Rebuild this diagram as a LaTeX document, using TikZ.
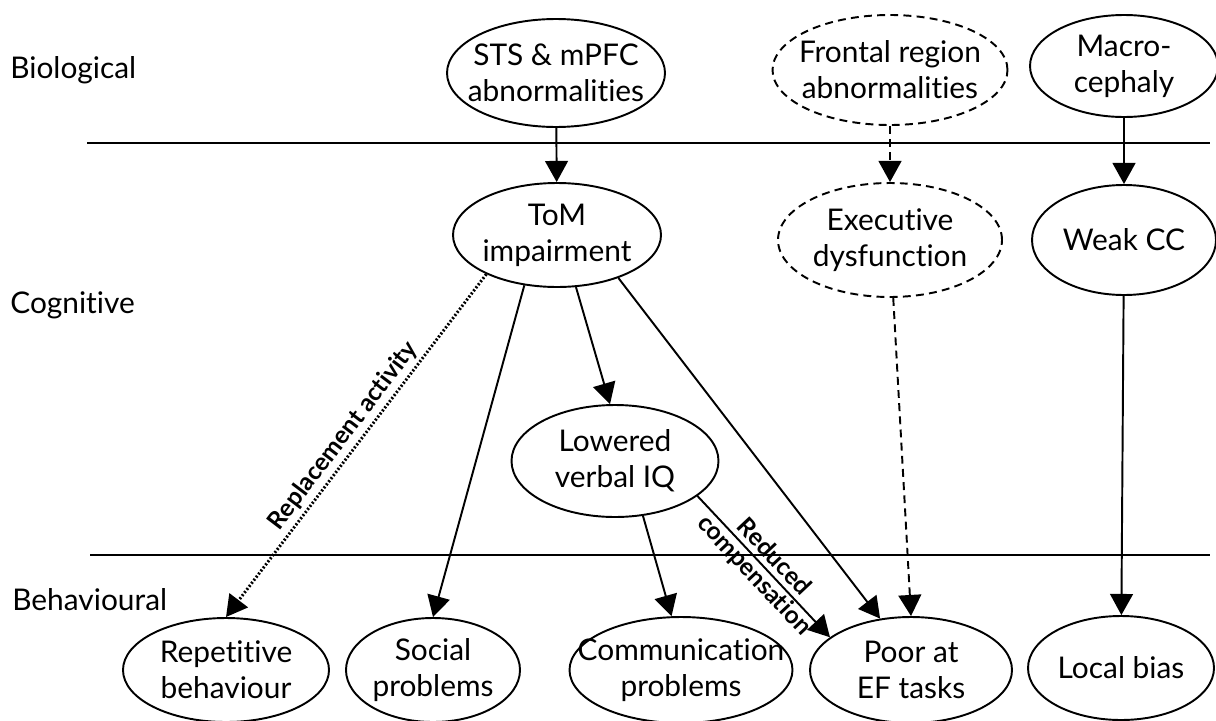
\documentclass[tikz,border=0pt]{standalone}
\usepackage{fontspec}
\setmainfont{Lato}[Ligatures={NoCommon,NoDiscretionary}]
\usetikzlibrary{arrows.meta,shapes.geometric}

\begin{document}
\begin{tikzpicture}[
  x=0.02cm, y=-0.02cm,
  font=\fontsize{17}{20.5}\selectfont,
  lvl/.style={anchor=west,inner sep=0pt},
  blob/.style={ellipse,draw,line width=1.1pt,align=center,inner xsep=-20pt,inner ysep=0pt},
  unsure/.style={blob,dashed,dash pattern=on 4.5pt off 3pt},
  ar/.style={-{Triangle[length=12pt,width=13pt]},line width=1.1pt},
  dotar/.style={ar,line width=1.7pt,dash pattern=on 1.1pt off 1.1pt},
  dashar/.style={ar,dash pattern=on 4.5pt off 3pt},
  lbl/.style={font=\fontsize{14}{15}\selectfont\bfseries,inner sep=2pt}
]
\useasboundingbox (0,0) rectangle (1216,720);

% levels and the two separators
\node[lvl] (bio) at (10,70)  {Biological};
\node[lvl] (cog) at (10,305) {Cognitive};
\node[lvl] (beh) at (12,600) {Behavioural};
\draw[line width=1.1pt] (87,143) -- (1210,143);
\draw[line width=1.1pt] (90,555) -- (1210,555);

% biological
\node[blob,minimum width=218*0.02cm,minimum height=108*0.02cm] (sts) at (556,73)
  {STS \& mPFC\\abnormalities};
\node[unsure,minimum width=235*0.02cm,minimum height=110*0.02cm] (front) at (890,70)
  {Frontal region\\abnormalities};
\node[blob,minimum width=188*0.02cm,minimum height=102*0.02cm] (macro) at (1124,66)
  {Macro-\\cephaly};

% cognitive
\node[blob,minimum width=208*0.02cm,minimum height=104*0.02cm] (tom) at (557,235)
  {ToM\\impairment};
\node[unsure,minimum width=224*0.02cm,minimum height=114*0.02cm] (exec) at (890,240)
  {Executive\\dysfunction};
\node[blob,minimum width=184*0.02cm,minimum height=110*0.02cm] (weak) at (1124,240)
  {Weak CC};
\node[blob,minimum width=207*0.02cm,minimum height=112*0.02cm] (lowiq) at (615,461)
  {Lowered\\verbal IQ};

% behavioural
\node[blob,minimum width=206*0.02cm,minimum height=104*0.02cm] (rep) at (226,670)
  {Repetitive\\behaviour};
\node[blob,minimum width=174*0.02cm,minimum height=104*0.02cm] (social) at (433,670)
  {Social\\problems};
\node[blob,minimum width=223*0.02cm,minimum height=106*0.02cm] (comm) at (681,670)
  {Communication\\problems};
\node[blob,minimum width=202*0.02cm,minimum height=106*0.02cm] (poorEF) at (911,670)
  {Poor at\\EF tasks};
\node[blob,minimum width=186*0.02cm,minimum height=104*0.02cm] (local) at (1121,668)
  {Local bias};

\draw[ar] (sts) -- (tom);
\draw[dashar] (front) -- (exec);
\draw[ar] (macro) -- (weak);
\draw[dotar] (tom.-151) -- node[lbl,sloped,above] {Replacement activity} (rep.north);
\draw[ar] (tom.-123) -- (social.north);
\draw[ar] (tom.-70) -- (lowiq.95);
\draw[ar] (tom.-35) -- (poorEF.121);
\draw[ar] (lowiq.-63) -- (comm.100);
\draw[ar] (lowiq.-23) -- node[lbl,sloped,align=center] {Reduced\\compensation} (poorEF.158);
\draw[dashar] (exec) -- (poorEF.north);
\draw[ar] (weak) -- (local);
\end{tikzpicture}
\end{document}
